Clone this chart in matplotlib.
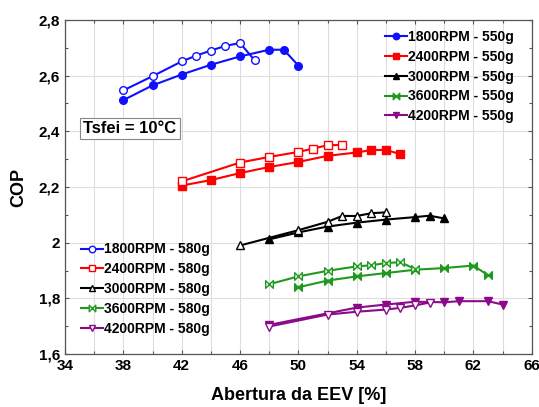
import matplotlib
matplotlib.use("Agg")
import matplotlib.pyplot as plt
from matplotlib.path import Path
from matplotlib.ticker import MultipleLocator, FuncFormatter

plt.rcParams['font.family'] = ['Liberation Sans', 'DejaVu Sans']
plt.rcParams['font.weight'] = 'bold'

# --------------------   data   ------------------------------------------------------#
x_1800_550 = [38, 40, 42, 44, 46, 48, 49, 50]
y_1800_550 = [2.512, 2.565, 2.604, 2.639, 2.669, 2.693, 2.693, 2.636]
x_1800_580 = [38, 40, 42, 43, 44, 45, 46, 47]
y_1800_580 = [2.547, 2.598, 2.651, 2.672, 2.690, 2.707, 2.717, 2.655]

x_2400_550 = [42, 44, 46, 48, 50, 52, 54, 55, 56, 57]
y_2400_550 = [2.205, 2.225, 2.250, 2.272, 2.290, 2.312, 2.324, 2.333, 2.333, 2.318]
x_2400_580 = [42, 46, 48, 50, 51, 52, 53]
y_2400_580 = [2.220, 2.288, 2.308, 2.326, 2.338, 2.350, 2.351]

x_3000_550 = [48, 50, 52, 54, 56, 58, 59, 60]
y_3000_550 = [2.012, 2.037, 2.058, 2.072, 2.083, 2.092, 2.097, 2.087]
x_3000_580 = [46, 50, 52, 53, 54, 55, 56]
y_3000_580 = [1.990, 2.045, 2.075, 2.096, 2.096, 2.106, 2.109]

x_3600_550 = [50, 52, 54, 56, 58, 60, 62, 63]
y_3600_550 = [1.840, 1.864, 1.879, 1.891, 1.903, 1.909, 1.918, 1.883]
x_3600_580 = [48, 50, 52, 54, 55, 56, 57, 58]
y_3600_580 = [1.851, 1.879, 1.899, 1.915, 1.919, 1.927, 1.930, 1.905]

x_4200_550 = [48, 54, 56, 58, 60, 61, 63, 64]
y_4200_550 = [1.705, 1.767, 1.778, 1.788, 1.786, 1.790, 1.790, 1.778]
x_4200_580 = [48, 52, 54, 56, 57, 58, 59]
y_4200_580 = [1.699, 1.742, 1.752, 1.760, 1.766, 1.775, 1.785]

labels_550 = ["1800RPM - 550g", "2400RPM - 550g", "3000RPM - 550g", "3600RPM - 550g", "4200RPM - 550g"]
labels_580 = ["1800RPM - 580g", "2400RPM - 580g", "3000RPM - 580g", "3600RPM - 580g", "4200RPM - 580g"]
x_ticks = [34, 38, 42, 46, 50, 54, 58, 62, 66]

BLUE = '#1010ff'
RED = '#ff0000'
BLACK = '#000000'
GREEN = '#1f9a1f'
PURPLE = '#8a0a8a'

# bowtie marker (two triangles pointing at each other)
bowtie = Path([(-1, -1), (-1, 1), (0, 0), (-1, -1), (1, -1), (1, 1), (0, 0), (1, -1)],
              [Path.MOVETO, Path.LINETO, Path.LINETO, Path.CLOSEPOLY,
               Path.MOVETO, Path.LINETO, Path.LINETO, Path.CLOSEPOLY])

fig = plt.figure(figsize=(5.39, 4.07), dpi=100)
ax = fig.add_axes([0.1206, 0.130, 0.866, 0.821])

lw = 1.5
ms = 5.5

series_550 = [
    (x_1800_550, y_1800_550, BLUE, 'o'),
    (x_2400_550, y_2400_550, RED, 's'),
    (x_3000_550, y_3000_550, BLACK, '^'),
    (x_3600_550, y_3600_550, GREEN, bowtie),
    (x_4200_550, y_4200_550, PURPLE, 'v'),
]
series_580 = [
    (x_1800_580, y_1800_580, BLUE, 'o'),
    (x_2400_580, y_2400_580, RED, 's'),
    (x_3000_580, y_3000_580, BLACK, '^'),
    (x_3600_580, y_3600_580, GREEN, bowtie),
    (x_4200_580, y_4200_580, PURPLE, 'v'),
]

h550 = []
for (xx, yy, c, m), lab in zip(series_550, labels_550):
    ln, = ax.plot(xx, yy, color=c, marker=m, markersize=ms, linewidth=lw,
                  markerfacecolor=c, markeredgecolor=c, label=lab, zorder=3)
    h550.append(ln)

h580 = []
for (xx, yy, c, m), lab in zip(series_580, labels_580):
    ln, = ax.plot(xx, yy, color=c, marker=m, markersize=ms, linewidth=lw,
                  markerfacecolor='white', markeredgecolor=c, markeredgewidth=1.0,
                  label=lab, zorder=3)
    h580.append(ln)

ax.set_xlim(34, 66)
ax.set_ylim(1.6, 2.8)
ax.set_xticks(x_ticks)
ax.xaxis.set_minor_locator(MultipleLocator(2))
ax.yaxis.set_major_locator(MultipleLocator(0.2))
ax.yaxis.set_minor_locator(MultipleLocator(0.1))
ax.yaxis.set_major_formatter(FuncFormatter(lambda v, p: "{:g}".format(round(v, 2)).replace('.', ',')))

ax.tick_params(which='both', direction='in', top=True, right=True, labelsize=11)
ax.tick_params(which='major', length=3, width=0.8, colors='#555555', labelcolor='black')
ax.tick_params(which='minor', length=2, width=0.8, colors='#555555')
for sp in ax.spines.values():
    sp.set_color('#555555')
    sp.set_linewidth(0.9)

ax.grid(True, which='major', color='#dddddd', linewidth=0.8, zorder=0)
ax.xaxis.grid(True, which='minor', color='#dddddd', linewidth=0.8)

ax.set_xlabel('Abertura da EEV [%]', fontsize=13, fontweight='bold', labelpad=10)
ax.set_ylabel('COP', fontsize=13, fontweight='bold', labelpad=8)

leg1 = ax.legend(handles=h550, loc='upper right', bbox_to_anchor=(0.962, 0.97),
                 frameon=False, fontsize=10, handlelength=1.6, handletextpad=0.1,
                 labelspacing=0.42, borderpad=0, borderaxespad=0, markerscale=0.85)
ax.add_artist(leg1)
ax.legend(handles=h580, loc='upper left', bbox_to_anchor=(0.034, 0.334),
          frameon=False, fontsize=10, handlelength=1.6, handletextpad=0.1,
          labelspacing=0.42, borderpad=0, borderaxespad=0, markerscale=0.85)

ax.text(38.45, 2.41, 'Tsfei = 10°C', fontsize=12, fontweight='bold', ha='center', va='center',
        bbox=dict(boxstyle='square,pad=0.2', facecolor='white', edgecolor='#888888', linewidth=0.8),
        zorder=4)

fig.savefig('out.png', dpi=100)
